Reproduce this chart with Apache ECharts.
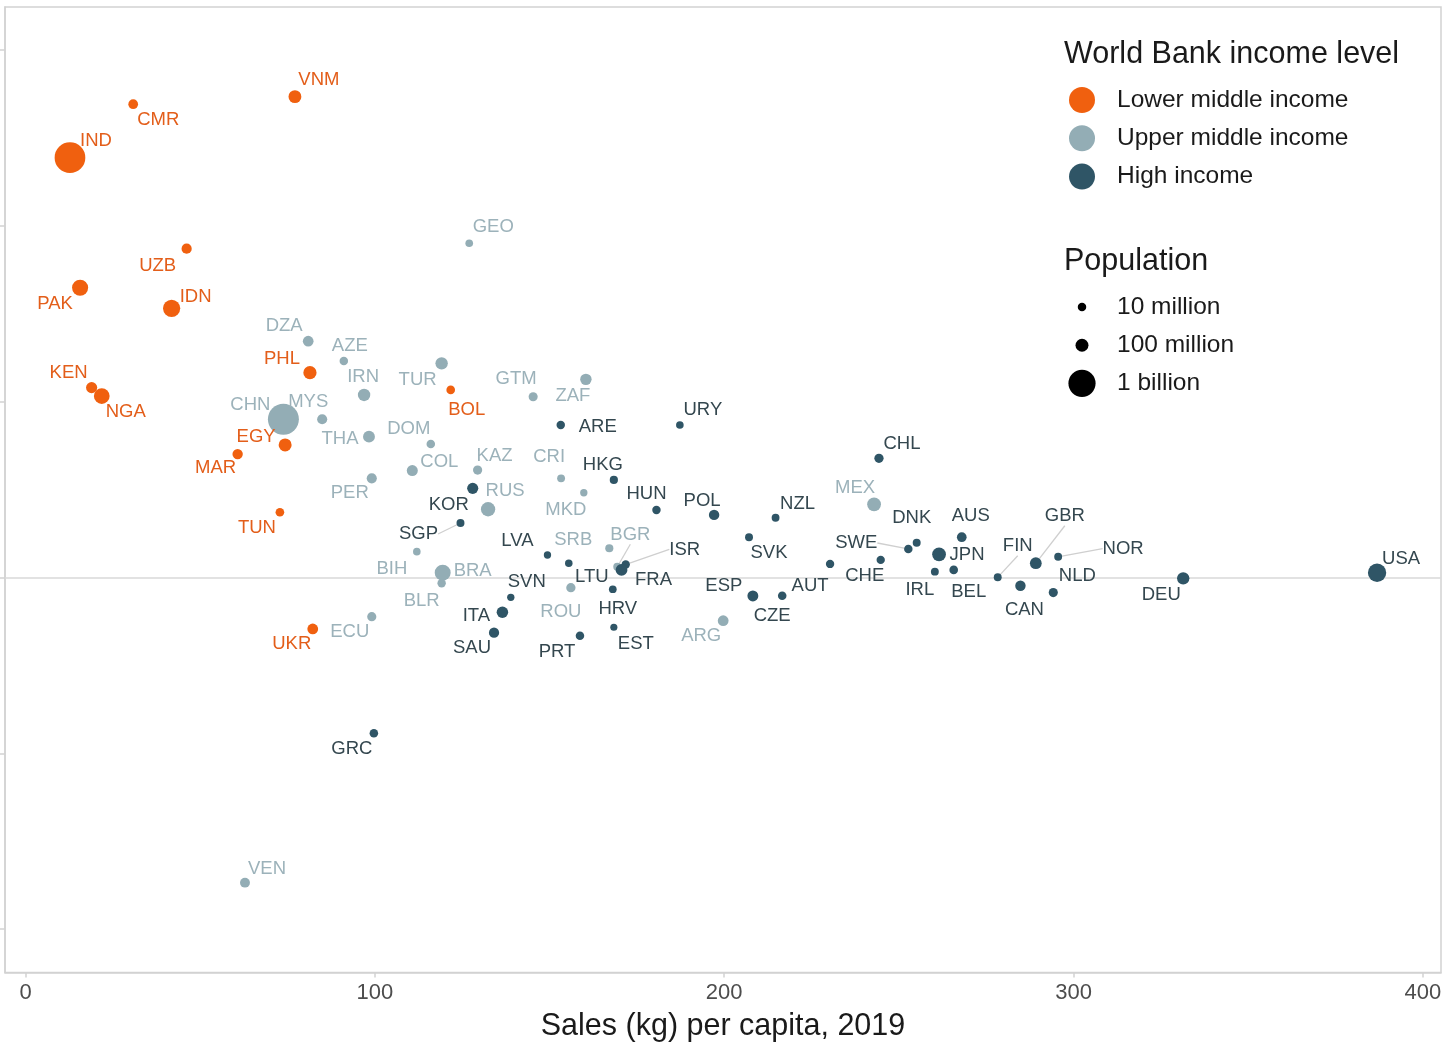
<!DOCTYPE html>
<html><head><meta charset="utf-8">
<script src="https://cdn.jsdelivr.net/npm/echarts@6/dist/echarts.min.js"></script>
<style>html,body{margin:0;padding:0;background:#fff}#chart{width:1447px;height:1056px}</style>
</head><body><div id="chart"></div>
<script>
// ---- Data (x: sales kg per capita 2019, y: unlabelled vertical score, pop: millions) ----
const xTicks = [0, 100, 200, 300, 400];
const yTicks = [-2, -1, 0, 1, 2, 3];

const lowerCodes = ['VNM','CMR','IND','UZB','PAK','IDN','PHL','KEN','NGA','BOL','EGY','MAR','TUN','UKR'];
const lowerSales = [77.1,30.8,12.7,46.1,15.6,41.8,81.4,18.9,21.8,121.7,74.3,60.7,72.8,82.2];
const lowerScore = [2.735,2.692,2.388,1.870,1.648,1.531,1.165,1.080,1.032,1.067,0.754,0.702,0.371,-0.293];
const lowerPop   = [96.5,25.9,1366,33.6,216.6,270.6,108.1,52.6,201,11.5,100.4,36.5,11.7,44.4];

const upperCodes = ['GEO','DZA','AZE','TUR','IRN','GTM','ZAF','CHN','MYS','THA','DOM','COL','KAZ','PER','CRI','MKD','RUS','MEX','BIH','SRB','BGR','BRA','BLR','ROU','ECU','ARG','VEN'];
const upperSales = [127.0,80.9,91.1,119.1,96.9,145.3,160.4,73.8,84.9,98.3,116.0,110.7,129.4,99.1,153.3,159.8,132.4,242.9,112.0,167.1,169.4,119.4,119.1,156.1,99.1,199.7,62.8];
const upperScore = [1.901,1.344,1.232,1.218,1.038,1.028,1.127,0.900,0.900,0.801,0.759,0.608,0.611,0.564,0.564,0.482,0.388,0.416,0.147,0.166,0.061,0.027,-0.033,-0.058,-0.223,-0.246,-1.736];
const upperPop   = [3.7,43.1,10.0,83.4,82.9,16.6,58.6,1398,31.9,69.6,10.7,50.3,18.5,32.5,5.0,2.1,144.4,127.6,3.3,6.9,7.0,211,9.4,19.4,17.4,44.9,28.5];

const highCodes = ['ARE','URY','CHL','HKG','KOR','HUN','POL','NZL','SGP','SVK','AUS','DNK','SWE','JPN','LVA','NOR','CHE','GBR','LTU','AUT','ISR','FRA','BEL','IRL','USA','FIN','DEU','CAN','HRV','NLD','ESP','CZE','SVN','ITA','EST','SAU','PRT','GRC'];
const highSales = [153.2,187.3,244.3,168.4,128.0,180.6,197.1,214.7,124.5,207.1,268.0,255.1,252.7,261.5,149.4,295.6,244.8,289.2,155.5,230.3,171.8,170.6,265.7,260.3,386.9,278.3,331.4,284.8,168.1,294.2,208.2,216.6,138.9,136.5,168.4,134.1,158.7,99.7];
const highScore = [0.867,0.867,0.678,0.555,0.507,0.384,0.356,0.340,0.310,0.229,0.229,0.198,0.162,0.132,0.128,0.118,0.100,0.081,0.081,0.077,0.074,0.043,0.043,0.033,0.027,0.001,-0.005,-0.047,-0.067,-0.086,-0.105,-0.104,-0.113,-0.198,-0.283,-0.314,-0.331,-0.886];
const highPop   = [9.8,3.5,19.0,7.5,51.7,9.8,38.0,4.9,5.7,5.5,25.4,5.8,10.3,126.3,1.9,5.3,8.6,66.8,2.8,8.9,9.1,67.1,11.5,4.9,328.2,5.5,83.1,37.6,4.1,17.3,47.1,10.7,2.1,60.3,1.3,34.3,10.3,10.7];

const popLegendNames = ['10 million', '100 million', '1 billion'];
const popLegendValues = [10, 100, 1000];

// ---- Layout / style (label nudges in px from point centre) ----
const labelNudge = {
  VNM:[24,-17], CMR:[25,16], IND:[26,-17], UZB:[-29,17], PAK:[-25,16], IDN:[24,-11], PHL:[-28,-14],
  KEN:[-23,-15], NGA:[24,16], BOL:[16,20], EGY:[-29,-8], MAR:[-22,14], TUN:[-23,16], UKR:[-21,15],
  GEO:[24,-16], DZA:[-24,-15], AZE:[6,-15], TUR:[-24,17], IRN:[-1,-18], GTM:[-17,-18], ZAF:[-13,17],
  CHN:[-33,-14], MYS:[-14,-17], THA:[-29,2], DOM:[-22,-15], COL:[27,-9], KAZ:[17,-14], PER:[-22,15],
  CRI:[-12,-21], MKD:[-18,17], RUS:[17,-18], MEX:[-19,-16], BIH:[-25,17], SRB:[-36,-8], BGR:[13,-32],
  BRA:[30,-2], BLR:[-20,18], ROU:[-10,24], ECU:[-22,15], ARG:[-22,15], VEN:[22,-14],
  ARE:[37,2], URY:[23,-15], CHL:[23,-14], HKG:[-11,-15], KOR:[-24,17], HUN:[-10,-16], POL:[-12,-14],
  NZL:[22,-14], SGP:[-42,11], SVK:[20,16], AUS:[9,-21], DNK:[-5,-25], SWE:[-52,-6], JPN:[28,1],
  LVA:[-30,-14], NOR:[65,-8], CHE:[-16,16], GBR:[29,-47], LTU:[23,14], AUT:[-20,22], ISR:[59,-15],
  FRA:[32,10], BEL:[15,22], IRL:[-15,18], USA:[24,-14], FIN:[20,-31], DEU:[-22,17], CAN:[4,24],
  HRV:[5,20], NLD:[24,-17], ESP:[-29,-10], CZE:[-10,20], SVN:[16,-15], ITA:[-26,4], EST:[22,17],
  SAU:[-22,15], PRT:[-23,16], GRC:[-22,16]
};
const leaderCodes = ['SGP','BGR','ISR','SWE','FIN','GBR','NOR'];

const FONT = '"Liberation Sans", Arial, Helvetica, sans-serif';
const COL_LOWER = '#f0600f', COL_UPPER = '#93adb5', COL_HIGH = '#2f5566';
const TXT_LOWER = '#e35e1a', TXT_UPPER = '#9cb2ba', TXT_HIGH = '#34474f';

function dotSize(popM) { return 6.4 + 0.657 * Math.sqrt(popM); }

const groupCodes = [lowerCodes, upperCodes, highCodes];

function makeSeries(name, codes, sales, score, pop, color, textColor) {
  return {
    name: name, type: 'scatter', z: 3,
    data: codes.map((c, i) => ({
      name: c, value: [sales[i], score[i], pop[i]],
      labelLine: { show: leaderCodes.indexOf(c) >= 0 }
    })),
    symbolSize: v => dotSize(v[2]),
    itemStyle: { color: color, opacity: 1 },
    label: { show: true, position: 'inside', formatter: '{b}', color: textColor,
             fontSize: 18.5, fontFamily: FONT, textBorderWidth: 0 },
    labelLine: { show: false, lineStyle: { color: '#cfcfcf', width: 1.3 } },
    labelLayout: function (p) {
      const code = groupCodes[p.seriesIndex][p.dataIndex];
      const o = labelNudge[code] || [0, 0];
      return { dx: o[0], dy: o[1] };
    },
    emphasis: { disabled: true }
  };
}

const series = [
  makeSeries('Lower middle income', lowerCodes, lowerSales, lowerScore, lowerPop, COL_LOWER, TXT_LOWER),
  makeSeries('Upper middle income', upperCodes, upperSales, upperScore, upperPop, COL_UPPER, TXT_UPPER),
  makeSeries('High income', highCodes, highSales, highScore, highPop, COL_HIGH, TXT_HIGH),
  { name: 'ref', type: 'scatter', data: [], silent: true,
    markLine: { silent: true, z: 1, symbol: 'none', label: { show: false },
      lineStyle: { color: '#d9d9d9', width: 1.5, type: 'solid' }, data: [{ yAxis: 0 }] } }
];
popLegendNames.forEach(n => series.push({ name: n, type: 'scatter', data: [], itemStyle: { color: '#000', opacity: 1 } }));

const legendText = { fontSize: 24.5, color: '#1a1a1a', fontFamily: FONT };
const ICON_CX = 1082;
const popCenters = [306.7, 345, 383.3];
const legends = [{
  data: ['Lower middle income', 'Upper middle income', 'High income'],
  orient: 'vertical', left: ICON_CX - 13, top: 87, padding: 0, icon: 'circle',
  itemWidth: 60, itemHeight: 26, itemGap: 12.3, selectedMode: false, textStyle: legendText
}];
popLegendNames.forEach((n, i) => {
  const h = dotSize(popLegendValues[i]);
  legends.push({
    data: [n], orient: 'vertical', left: ICON_CX - h / 2, top: popCenters[i] - Math.max(h, 24.5) / 2, padding: 0,
    icon: 'circle', itemWidth: 60, itemHeight: h, selectedMode: false, textStyle: legendText,
    itemStyle: { opacity: 1 }
  });
});

const chart = echarts.init(document.getElementById('chart'), null, { renderer: 'canvas' });
chart.setOption({
  animation: false,
  backgroundColor: '#fff',
  textStyle: { fontFamily: FONT },
  title: [
    { text: 'World Bank income level', left: 1064, top: 39, padding: 0,
      textStyle: { fontSize: 30.5, fontWeight: 'normal', color: '#1a1a1a', fontFamily: FONT } },
    { text: 'Population', left: 1064, top: 246, padding: 0,
      textStyle: { fontSize: 30.5, fontWeight: 'normal', color: '#1a1a1a', fontFamily: FONT } }
  ],
  legend: legends,
  grid: { left: 5, right: 6, top: 7, bottom: 83.5, show: true, borderColor: '#d2d2d2', borderWidth: 1.5 },
  xAxis: {
    type: 'value', min: -5.9, max: 405.2,
    name: 'Sales (kg) per capita, 2019', nameLocation: 'middle', nameGap: 39,
    nameTextStyle: { fontSize: 30.5, color: '#1a1a1a', fontFamily: FONT },
    axisLine: { show: true, onZero: false, lineStyle: { color: '#d2d2d2', width: 1.5 } },
    axisTick: { show: true, customValues: xTicks, length: 5, lineStyle: { color: '#d2d2d2', width: 1.5 } },
    axisLabel: { show: true, customValues: xTicks, margin: 9, fontSize: 22, color: '#4d4d4d', fontFamily: FONT },
    splitLine: { show: false }
  },
  yAxis: {
    type: 'value', min: -2.247, max: 3.245,
    axisLine: { show: true, onZero: false, lineStyle: { color: '#d2d2d2', width: 1.5 } },
    axisTick: { show: true, customValues: yTicks, length: 5, lineStyle: { color: '#d2d2d2', width: 1.5 } },
    axisLabel: { show: false },
    splitLine: { show: false }
  },
  series: series
});
</script></body></html>
